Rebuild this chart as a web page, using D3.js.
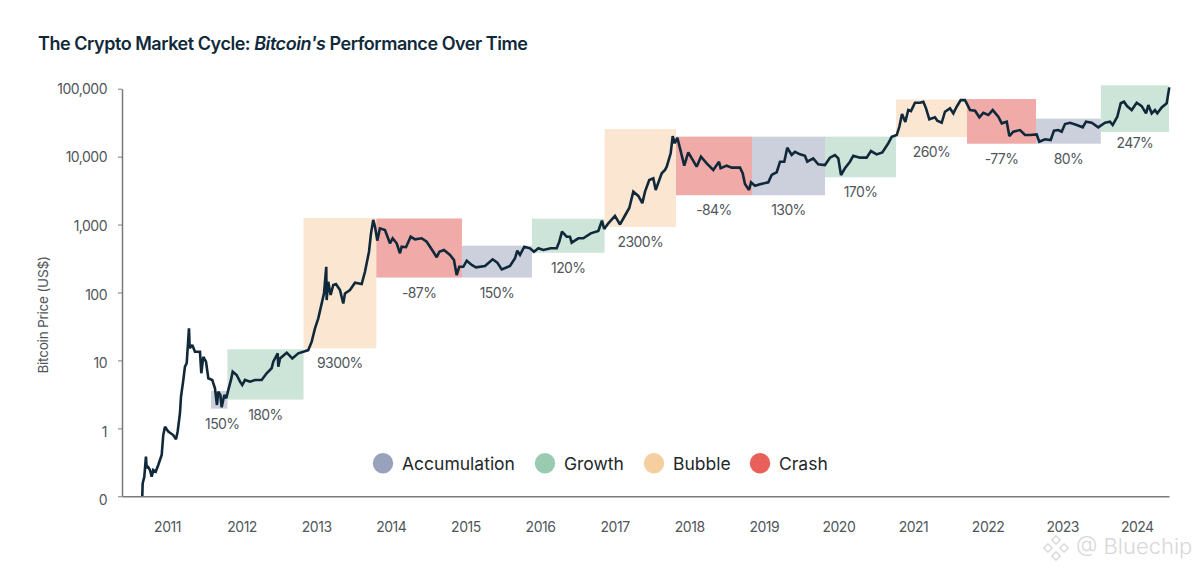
<!DOCTYPE html>
<html><head><meta charset="utf-8">
<script src="https://cdn.jsdelivr.net/npm/d3@7/dist/d3.min.js"></script>
<style>
html,body{margin:0;padding:0;background:#fff;overflow:hidden}
svg{display:block}
text{font-family:Inter,"Noto Sans",sans-serif}
</style></head><body><svg id="c" width="1200" height="574"></svg>
<script>
// Price series: decimal year on the chart's time axis, price in US$
const priceYears = [2010.669,2010.674,2010.696,2010.718,2010.728,2010.741,2010.772,2010.795,2010.816,2010.849,2010.883,2010.929,2010.950,2010.973,2011.017,2011.084,2011.121,2011.143,2011.174,2011.188,2011.219,2011.241,2011.264,2011.295,2011.304,2011.339,2011.375,2011.442,2011.460,2011.487,2011.523,2011.554,2011.607,2011.643,2011.670,2011.688,2011.715,2011.733,2011.768,2011.795,2011.822,2011.858,2011.881,2011.934,2011.979,2012.009,2012.046,2012.113,2012.180,2012.269,2012.336,2012.403,2012.425,2012.484,2012.492,2012.515,2012.605,2012.680,2012.760,2012.827,
2012.894,2012.940,2012.984,2013.028,2013.074,2013.105,2013.135,2013.140,2013.162,2013.194,2013.229,2013.265,2013.319,2013.363,2013.386,2013.453,2013.520,2013.610,2013.654,2013.708,2013.735,2013.765,2013.788,2013.819,2013.855,2013.922,2013.989,2014.025,2014.079,2014.123,2014.146,2014.204,2014.267,2014.324,2014.414,2014.481,2014.570,2014.615,2014.651,2014.713,2014.794,2014.847,2014.883,2014.918,2014.972,2015.018,
2015.085,2015.142,2015.263,2015.366,2015.428,2015.487,2015.598,2015.665,2015.696,2015.732,2015.790,2015.866,2015.920,2015.978,2016.045,2016.144,2016.224,2016.259,2016.295,2016.358,2016.402,2016.425,2016.514,2016.581,2016.680,2016.782,2016.831,2016.861,2016.916,
2017.005,2017.073,2017.140,2017.197,2017.251,2017.318,2017.372,2017.408,2017.465,2017.519,2017.551,2017.632,2017.676,2017.699,2017.752,2017.779,2017.806,2017.841,2017.877,2017.934,2017.988,2018.047,2018.100,2018.158,2018.235,2018.323,2018.400,2018.422,2018.503,2018.570,2018.681,2018.717,2018.748,2018.802,2018.829,2018.882,2018.949,
2019.061,2019.106,2019.173,2019.218,2019.275,2019.315,2019.374,2019.418,2019.485,2019.552,2019.583,2019.663,2019.730,2019.820,2019.887,2019.954,2019.999,2020.035,2020.088,2020.155,2020.200,2020.289,2020.379,2020.437,2020.513,2020.589,2020.669,2020.715,2020.782,2020.817,2020.853,2020.897,2020.937,2020.973,
2021.027,2021.094,2021.139,2021.175,2021.219,2021.295,2021.326,2021.385,2021.429,2021.496,2021.541,2021.586,2021.640,2021.698,2021.765,2021.832,2021.890,2021.943,2022.010,2022.069,2022.144,2022.190,2022.257,2022.292,2022.345,2022.435,2022.502,2022.569,2022.658,2022.693,2022.770,2022.846,2022.890,2022.948,2022.993,
2023.038,2023.105,2023.195,2023.275,2023.319,2023.396,2023.484,2023.574,2023.641,2023.677,2023.739,2023.785,2023.829,2023.869,2023.932,2023.999,2024.066,2024.124,2024.155,2024.200,2024.244,2024.275,2024.334,2024.401,2024.436];
const priceValues = [0.101,0.155,0.194,0.383,0.258,0.277,0.244,0.194,0.244,0.230,0.289,0.405,0.797,1.06,0.90,0.797,0.69,0.90,1.67,2.93,5.16,8.1,9.1,29.7,15.1,16.9,13.4,13.4,6.47,11.3,9.6,5.46,5.16,3.89,2.21,3.47,3.1,2.04,3.1,2.77,3.68,5.16,6.83,6.1,4.87,4.36,5.16,4.87,5.16,5.16,6.47,7.67,9.6,12.7,8.1,10.7,13.0,10.7,12.7,13.4,
14.2,18.9,29.6,41.7,69.2,97,239,77.5,144,92,129,133,109,69,97,109,139,133,202,398,743,1170,935,580,880,832,530,628,530,378,472,464,663,607,628,560,398,330,398,422,357,301,181,239,239,294,
254,235,245,308,275,219,245,319,412,357,472,447,398,447,422,447,447,560,786,663,663,541,628,628,743,803,1140,860,1045,
1340,1003,1360,1755,3050,2640,2060,3050,4530,4800,3230,5690,6370,7120,11200,20100,15700,19000,13250,7360,11560,8930,7120,9970,7980,6370,8420,6740,7360,6880,6880,5690,3960,3230,4190,3735,3920,
4190,5370,5890,8420,8420,13520,10560,11800,10800,10310,8420,9450,7730,7530,9660,10560,9450,5370,6740,8420,10310,9660,9660,12100,10800,11560,15700,19600,20800,27500,42400,32300,48500,46900,
62200,62200,64300,51400,35400,37900,33800,31500,45800,51400,43400,54300,68000,68000,48500,47400,37900,44200,41000,48500,38700,30900,32700,20100,23300,24600,20800,20800,21200,16600,18000,17550,24100,24600,23300,
30200,31500,29200,27000,32700,31500,27000,31500,32700,29200,38700,61000,64300,55500,48500,62200,55500,43400,57500,43400,48500,43400,53100,61000,104700];

// Market phases
const phaseKinds  = ["Accumulation","Growth","Bubble","Crash","Accumulation","Growth","Bubble","Crash","Accumulation","Growth","Bubble","Crash","Accumulation","Growth"];
const phaseStarts = [2011.590,2011.811,2012.830,2013.806,2014.954,2015.893,2016.866,2017.823,2018.842,2019.821,2020.772,2021.724,2022.649,2023.518];
const phaseEnds   = [2011.811,2012.830,2013.806,2014.954,2015.893,2016.866,2017.823,2018.842,2019.821,2020.772,2021.724,2022.649,2023.518,2024.432];
const phaseLows   = [1.95,2.65,15.1,166,166,385,920,2700,2700,4970,19400,15500,15500,23000];
const phaseHighs  = [3.55,14.6,1250,1230,489,1220,25500,19700,19700,19700,69200,70400,36200,112000];
const phaseLabels = ["150%","180%","9300%","-87%","150%","120%","2300%","-84%","130%","170%","260%","-77%","80%","247%"];

// Axis and legend content
const yearTicks  = [2011,2012,2013,2014,2015,2016,2017,2018,2019,2020,2021,2022,2023,2024];
const priceTicks = [100000,10000,1000,100,10,1,0.1];
const priceTickLabels = ["100,000","10,000","1,000","100","10","1","0"];
const legendNames = ["Accumulation","Growth","Bubble","Crash"];

const bandColor = {Accumulation:"#ccd0dd",Growth:"#cde4d9",Bubble:"#fbe6d2",Crash:"#f0aaa7"};
const dotColor  = {Accumulation:"#98a2bc",Growth:"#99cbb0",Bubble:"#f6cfa1",Crash:"#e9605a"};
const ink = "#10293a", grey = "#50565a", axisGrey = "#777a7c";

const x = d3.scaleLinear().domain([2010.397,2024.432]).range([122,1169]);
const y = d3.scaleLog().domain([0.1,100000]).range([496.3,88.7]);
const svg = d3.select("#c");

// title
const title = svg.append("text").attr("x",38).attr("y",50).attr("fill",ink)
  .attr("font-size",18).attr("font-weight",600).attr("letter-spacing",-0.46);
title.append("tspan").text("The Crypto Market Cycle: ");
title.append("tspan").attr("font-style","italic").text("Bitcoin's");
title.append("tspan").text(" Performance Over Time");

// phase bands
svg.append("g").selectAll("rect").data(phaseKinds).join("rect")
  .attr("x",(d,i)=>x(phaseStarts[i]))
  .attr("width",(d,i)=>x(phaseEnds[i])-x(phaseStarts[i]))
  .attr("y",(d,i)=>y(phaseHighs[i]))
  .attr("height",(d,i)=>y(phaseLows[i])-y(phaseHighs[i]))
  .attr("fill",d=>bandColor[d]);

// phase labels
const labelCount = phaseLabels.length;
svg.append("g").selectAll("text").data(phaseLabels).join("text")
  .attr("x",(d,i)=>(x(phaseStarts[i])+x(phaseEnds[i]))/2+(i===0?3:0))
  .attr("y",(d,i)=>y(phaseLows[i])+(i===labelCount-1?15.5:20))
  .attr("text-anchor","middle").attr("font-size",14).attr("letter-spacing",-0.6)
  .attr("fill",grey).text(d=>d);

// axes
const yAxis = d3.axisLeft(y).tickValues(priceTicks)
  .tickFormat((d,i)=>priceTickLabels[i]).tickSize(4).tickSizeOuter(0).tickPadding(11);
const gy = svg.append("g").attr("transform","translate(122,0)").call(yAxis);
const xAxis = d3.axisBottom(x).tickValues(yearTicks).tickFormat(d3.format("d")).tickSize(0).tickPadding(26);
const gx = svg.append("g").attr("transform","translate(0,496.3)").call(xAxis);
[gx,gy].forEach(g=>{
  g.attr("font-family",null).attr("font-size",null);
  g.select(".domain").attr("stroke",axisGrey).attr("stroke-width",1.5);
  g.selectAll("line").attr("stroke",axisGrey).attr("stroke-width",1);
  g.selectAll("text").attr("fill",grey).attr("font-size",14).attr("letter-spacing",-0.5);
});
gy.selectAll("text").attr("y",(d,i)=>i*0.68);

svg.append("text").attr("transform","translate(48,315) rotate(-90)")
  .attr("text-anchor","middle").attr("font-size",13.5).attr("letter-spacing",-0.2)
  .attr("fill",grey).text("Bitcoin Price (US$)");

// price line
const line = d3.line().x(d=>x(d)).y((d,i)=>y(priceValues[i]));
svg.append("path").attr("d",line(priceYears)).attr("fill","none")
  .attr("stroke",ink).attr("stroke-width",2.6)
  .attr("stroke-linejoin","miter").attr("stroke-miterlimit",2).attr("stroke-linecap","butt");

// legend
const legendDots = [383,545,654,760];
const leg = svg.append("g").selectAll("g").data(legendNames).join("g")
  .attr("transform",(d,i)=>`translate(${legendDots[i]},463.3)`);
leg.append("circle").attr("r",10.2).attr("fill",d=>dotColor[d]);
leg.append("text").attr("x",19).attr("y",6.2).attr("font-size",17.5)
  .attr("fill","#23272a").text(d=>d);

// watermark
const wm = svg.append("g").attr("fill","none").attr("stroke","#dcdcdc").attr("stroke-width",1.6);
[[1048,548,6],[1056,540,6],[1064,548,6],[1056,556,6]].forEach(s=>{
  wm.append("rect").attr("x",s[0]-s[2]/2).attr("y",s[1]-s[2]/2).attr("width",s[2]).attr("height",s[2])
    .attr("transform",`rotate(45 ${s[0]} ${s[1]})`);
});
svg.append("text").attr("x",1076).attr("y",554).attr("font-size",22).attr("fill","#d8d8d8")
  .attr("font-weight",300).text("@ Bluechip");
</script></body></html>
